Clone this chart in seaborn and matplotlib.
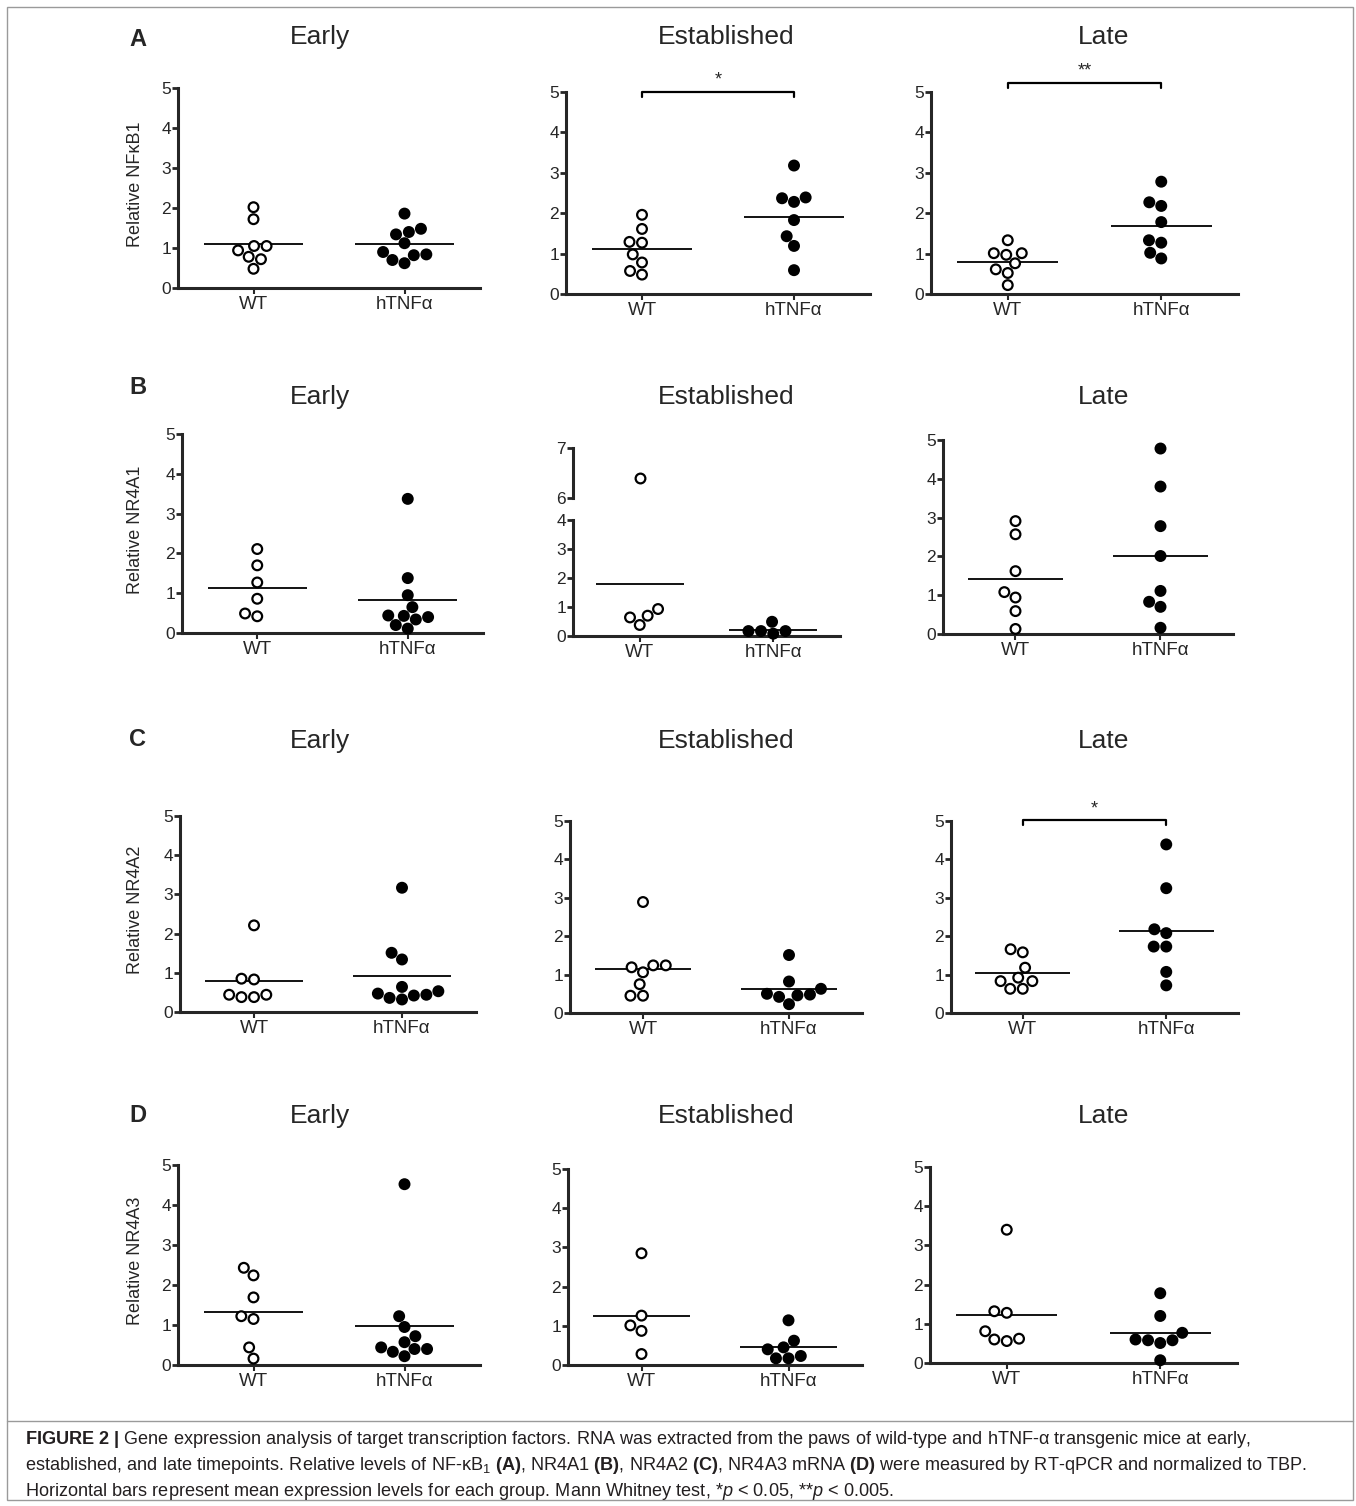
import numpy as np
import pandas as pd
import matplotlib
matplotlib.use('Agg')
import matplotlib.pyplot as plt
from matplotlib.patches import Rectangle
from matplotlib.lines import Line2D
import seaborn as sns

groups = ['WT', 'hTNFα']
stages = ['Early', 'Established', 'Late']
genes = ['NFκB1', 'NR4A1', 'NR4A2', 'NR4A3']
letters = ['A', 'B', 'C', 'D']

# A - NFkB1
nfkb1_early_wt = [2.02, 1.72, 1.05, 1.05, 0.94, 0.78, 0.72, 0.48]
nfkb1_early_tnf = [1.86, 1.48, 1.40, 1.34, 1.12, 0.90, 0.82, 0.70, 0.84, 0.62]
nfkb1_est_wt = [1.96, 1.61, 1.27, 1.29, 0.98, 0.78, 0.57, 0.48]
nfkb1_est_tnf = [3.18, 2.37, 2.28, 2.39, 1.83, 1.43, 1.19, 0.59]
nfkb1_late_wt = [1.33, 1.01, 0.97, 1.01, 0.76, 0.61, 0.52, 0.22]
nfkb1_late_tnf = [2.78, 2.27, 2.18, 1.78, 1.33, 1.27, 1.02, 0.88]

# B - NR4A1
nr4a1_early_wt = [2.11, 1.70, 1.27, 0.86, 0.49, 0.42]
nr4a1_early_tnf = [3.37, 1.38, 0.95, 0.65, 0.44, 0.40, 0.43, 0.34, 0.20, 0.11]
nr4a1_est_wt = [6.39, 0.93, 0.70, 0.64, 0.38]
nr4a1_est_tnf = [0.49, 0.17, 0.08, 0.17, 0.17]
nr4a1_late_wt = [2.91, 2.57, 1.62, 1.08, 0.94, 0.59, 0.13]
nr4a1_late_tnf = [4.78, 3.80, 2.78, 2.01, 1.11, 0.83, 0.70, 0.16]

# C - NR4A2
nr4a2_early_wt = [2.21, 0.85, 0.83, 0.44, 0.38, 0.38, 0.44]
nr4a2_early_tnf = [3.17, 1.51, 1.34, 0.64, 0.47, 0.42, 0.32, 0.36, 0.44, 0.53]
nr4a2_est_wt = [2.89, 1.24, 1.06, 1.19, 1.24, 0.75, 0.45, 0.45]
nr4a2_est_tnf = [1.51, 0.82, 0.63, 0.50, 0.46, 0.42, 0.48, 0.23]
nr4a2_late_wt = [1.58, 1.66, 1.18, 0.92, 0.83, 0.83, 0.63, 0.63]
nr4a2_late_tnf = [4.39, 3.25, 2.18, 2.08, 1.73, 1.73, 1.07, 0.72]

# D - NR4A3
nr4a3_early_wt = [2.43, 2.24, 1.69, 1.22, 1.15, 0.44, 0.16]
nr4a3_early_tnf = [4.52, 1.22, 0.95, 0.72, 0.57, 0.44, 0.40, 0.33, 0.40, 0.22]
nr4a3_est_wt = [2.85, 1.26, 1.01, 0.87, 0.28]
nr4a3_est_tnf = [1.14, 0.62, 0.45, 0.40, 0.23, 0.17, 0.17]
nr4a3_late_wt = [3.40, 1.32, 1.28, 0.81, 0.62, 0.56, 0.60]
nr4a3_late_tnf = [1.78, 1.20, 0.77, 0.60, 0.58, 0.51, 0.58, 0.07]

panels = [
    [(nfkb1_early_wt, nfkb1_early_tnf), (nfkb1_est_wt, nfkb1_est_tnf), (nfkb1_late_wt, nfkb1_late_tnf)],
    [(nr4a1_early_wt, nr4a1_early_tnf), (nr4a1_est_wt, nr4a1_est_tnf), (nr4a1_late_wt, nr4a1_late_tnf)],
    [(nr4a2_early_wt, nr4a2_early_tnf), (nr4a2_est_wt, nr4a2_est_tnf), (nr4a2_late_wt, nr4a2_late_tnf)],
    [(nr4a3_early_wt, nr4a3_early_tnf), (nr4a3_est_wt, nr4a3_est_tnf), (nr4a3_late_wt, nr4a3_late_tnf)],
]

# significance brackets: (row, col, label, bracket height)
sig_rows = [0, 0, 2]
sig_cols = [1, 2, 2]
sig_labels = ['*', '**', '*']
sig_heights = [5.0, 5.22, 5.02]

sns.set_style('ticks')
plt.rcParams['font.family'] = ['Liberation Sans', 'DejaVu Sans']
plt.rcParams['mathtext.fontset'] = 'custom'
plt.rcParams['mathtext.rm'] = 'Liberation Sans'
plt.rcParams['mathtext.it'] = 'Liberation Sans:italic'
plt.rcParams['mathtext.bf'] = 'Liberation Sans:bold'

W, H = 1356, 1506
fig = plt.figure(figsize=(W / 100, H / 100), dpi=100)

# pixel boxes: y-axis x, x-axis end, y of zero, y of top tick
boxes = [
    [(178, 480, 288, 88), (566, 870, 294, 92), (931, 1238, 294, 92)],
    [(182, 483, 633, 434), (573, 840, 636, 520), (943, 1233, 634, 440)],
    [(180, 476, 1012, 816), (570, 862, 1013, 821), (951, 1238, 1013, 821)],
    [(178, 480, 1365, 1165), (568, 862, 1365, 1169), (930, 1237, 1363, 1167)],
]
title_y = [37, 397, 741, 1116]
title_x = [320, 726, 1104]
letter_y = [40, 388, 740, 1116]


def px_axes(left, right, y0, ytop):
    return fig.add_axes([left / W, 1 - y0 / H, (right - left) / W, (y0 - ytop) / H])


def style(ax, ylo, yhi, xaxis=True):
    sns.despine(ax=ax, bottom=not xaxis)
    for s in ['left', 'bottom']:
        ax.spines[s].set_linewidth(2.2)
    ax.set_ylim(ylo, yhi)
    ax.set_yticks(np.arange(ylo, yhi + 1))
    ax.tick_params(axis='y', length=4, width=2, labelsize=12.5, pad=1)
    ax.tick_params(axis='x', length=4, width=1.5, labelsize=13.5, pad=2)
    ax.set_xlim(-0.5, 1.5)
    ax.set_xlabel('')
    ax.set_ylabel('')
    if not xaxis:
        ax.set_xticks([])


def dots(ax, wt, tnf):
    df = pd.DataFrame({'group': ['WT'] * len(wt) + ['hTNFα'] * len(tnf),
                       'value': list(wt) + list(tnf)})
    sns.swarmplot(data=df, x='group', y='value', hue='group', order=groups,
                  hue_order=groups, palette={'WT': 'white', 'hTNFα': 'black'},
                  edgecolor='black', linewidth=1.6, size=7, legend=False, ax=ax)
    for coll in list(ax.collections):
        if len(coll.get_offsets()) == 0:
            coll.remove()
            continue
        coll.set_clip_on(False)
        coll.set_zorder(4)


for r in range(4):
    for c in range(3):
        wt, tnf = panels[r][c]
        l, rt, y0, yt = boxes[r][c]
        if r == 1 and c == 1:
            # broken y axis
            ax = px_axes(l, rt, y0, yt)
            dots(ax, [v for v in wt if v < 5], [v for v in tnf if v < 5])
            style(ax, 0, 4)
            ax_up = px_axes(l, rt, 498, 448)
            dots(ax_up, [v for v in wt if v >= 5], [v for v in tnf if v >= 5])
            style(ax_up, 6, 7, xaxis=False)
        else:
            ax = px_axes(l, rt, y0, yt)
            dots(ax, wt, tnf)
            style(ax, 0, 5)
        for i, vals in enumerate([wt, tnf]):
            ax.hlines(np.mean(vals), i - 0.33, i + 0.33, color='black', lw=1.3, zorder=3)

        for sr, sc, lab, hgt in zip(sig_rows, sig_cols, sig_labels, sig_heights):
            if sr == r and sc == c:
                ax.plot([0, 0, 1, 1], [hgt - 0.13, hgt, hgt, hgt - 0.13], color='black',
                        lw=1.6, clip_on=False)
                ax.text(0.5, hgt + 0.08, lab, ha='center', va='bottom', fontsize=13)

        fig.text(title_x[c] / W, 1 - title_y[r] / H, stages[c], ha='center', va='center',
                 fontsize=19)
        if c == 0:
            fig.text(135 / W, 1 - ((y0 + yt) / 2 - 4) / H, 'Relative ' + genes[r],
                     rotation=90, ha='center', va='center', fontsize=13)
    fig.text(138 / W, 1 - letter_y[r] / H, letters[r], ha='center', va='center',
             fontsize=17, fontweight='bold')

# frame and caption
fig.add_artist(Rectangle((7 / W, 1 - 1500 / H), 1346 / W, 1493 / H, fill=False,
                         edgecolor='#9a9a9a', lw=1, transform=fig.transFigure))
fig.add_artist(Line2D([7 / W, 1353 / W], [1 - 1421 / H] * 2, color='#9a9a9a', lw=1,
                      transform=fig.transFigure))

caption = [
    r"$\mathbf{FIGURE\ 2\ |}$ Gene expression analysis of target transcription factors. "
    r"RNA was extracted from the paws of wild-type and hTNF-α transgenic mice at early,",
    r"established, and late timepoints. Relative levels of NF-κB$_1$ $\mathbf{(A)}$, NR4A1 "
    r"$\mathbf{(B)}$, NR4A2 $\mathbf{(C)}$, NR4A3 mRNA $\mathbf{(D)}$ were measured by "
    r"RT-qPCR and normalized to TBP.",
    r"Horizontal bars represent mean expression levels for each group. Mann Whitney test, "
    r"*$\mathit{p}$ < 0.05, **$\mathit{p}$ < 0.005.",
]
for k, line in enumerate(caption):
    fig.text(25 / W, 1 - (1440 + 25.5 * k) / H, line, ha='left', va='center',
             fontsize=13.1, color='#231f20')

fig.savefig('out.png', dpi=100)
